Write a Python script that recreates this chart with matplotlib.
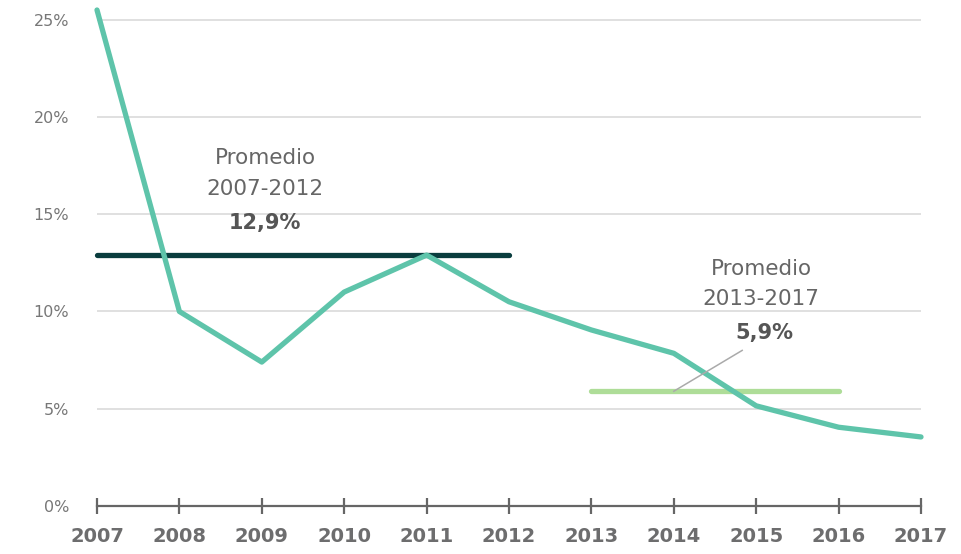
import numpy as np
import matplotlib.pyplot as plt

years = [2007, 2008, 2009, 2010, 2011, 2012, 2013, 2014, 2015, 2016, 2017]
values = [25.5, 10.0, 7.4, 11.0, 12.9, 10.5, 9.05, 7.85, 5.15, 4.05, 3.55]
avg1_years = [2007, 2012]
avg1 = 12.9
avg2_years = [2013, 2016]
avg2 = 5.9
yticks = [0, 5, 10, 15, 20, 25]

plt.rcParams['font.family'] = ['DejaVu Sans']

fig = plt.figure(figsize=(9.62, 5.54), dpi=100)
W, H = 962, 554
ax = fig.add_axes([97 / W, 1 - 506 / H, (921 - 97) / W, (506 - 10) / H])

ax.set_xlim(2007, 2017)
ax.set_ylim(0, 25.5)

for y in yticks[1:]:
    ax.axhline(y, color='#dddddd', lw=1.3, zorder=0)

ax.plot(avg1_years, [avg1, avg1], color='#0a3d3e', lw=3.8,
        solid_capstyle='round', clip_on=False, zorder=2)
ax.plot(avg2_years, [avg2, avg2], color='#aedd98', lw=3.8,
        solid_capstyle='round', clip_on=False, zorder=2)
ax.plot(years, values, color='#5ec4aa', lw=3.8, solid_capstyle='round',
        solid_joinstyle='round', clip_on=False, zorder=3)

# leader line for the second average
ax.plot([2014, 2014.83], [avg2, 8.0], color='#aaaaaa', lw=1.1, zorder=4)

txt = '#666666'
ax.text(2009.04, 17.9, 'Promedio', ha='center', va='center', fontsize=15.5,
        color=txt)
ax.text(2009.04, 16.3, '2007-2012', ha='center', va='center', fontsize=15.5,
        color=txt)
ax.text(2009.04, 14.55, '12,9%', ha='center', va='center', fontsize=15,
        color='#555555', fontweight='bold')
ax.text(2015.06, 12.2, 'Promedio', ha='center', va='center', fontsize=15.5,
        color=txt)
ax.text(2015.06, 10.65, '2013-2017', ha='center', va='center', fontsize=15.5,
        color=txt)
ax.text(2015.1, 8.9, '5,9%', ha='center', va='center', fontsize=15,
        color='#555555', fontweight='bold')

for s in ['top', 'right', 'left']:
    ax.spines[s].set_visible(False)
ax.spines['bottom'].set_color('#666666')
ax.spines['bottom'].set_linewidth(1.6)

ax.set_xticks(years)
ax.set_xticklabels([str(y) for y in years], fontsize=14, fontweight='bold',
                   color='#6d6d6e')
ax.tick_params(axis='x', direction='inout', length=12, width=1.6,
               color='#666666', pad=9)
ax.set_yticks(yticks)
ax.set_yticklabels([f'{y}%' for y in yticks], fontsize=11.5, color='#777777')
ax.tick_params(axis='y', length=0, pad=20)

fig.savefig('out.png', dpi=100)
